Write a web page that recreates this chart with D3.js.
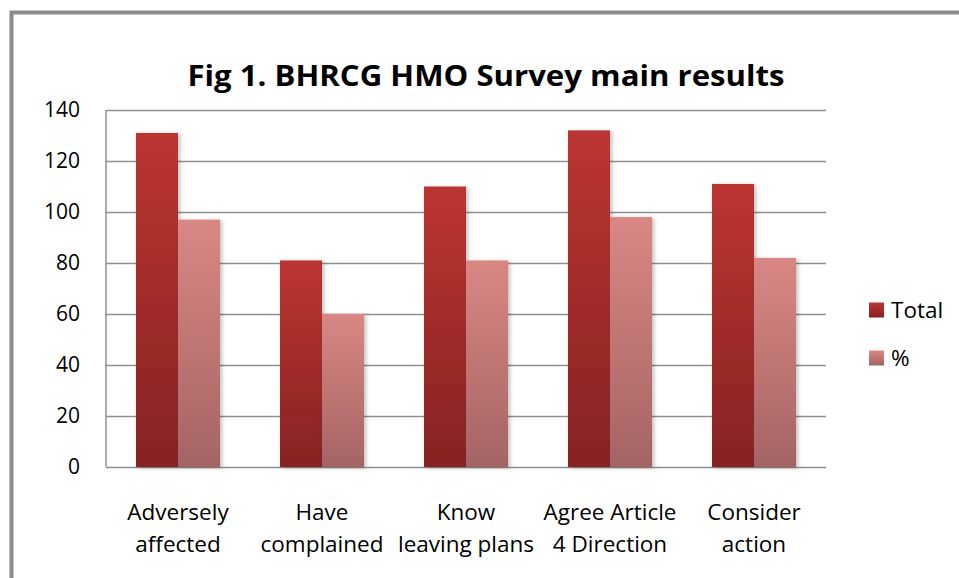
<!DOCTYPE html>
<html>
<head>
<meta charset="utf-8">
<script src="https://d3js.org/d3.v7.min.js"></script>
<style>
  body { margin: 0; background: #fff; }
  text { font-family: "Open Sans", "Noto Sans", sans-serif; fill: #000; }
</style>
</head>
<body>
<div id="chart"></div>
<script>
// data
const categories = ["Adversely affected", "Have complained", "Know leaving plans", "Agree Article 4 Direction", "Consider action"];
const catLines = [["Adversely", "affected"], ["Have", "complained"], ["Know", "leaving plans"], ["Agree Article", "4 Direction"], ["Consider", "action"]];
const series = ["Total", "%"];
const totalValues = [131, 81, 110, 132, 111];
const pctValues = [97, 60, 81, 98, 82];
const yTicks = [0, 20, 40, 60, 80, 100, 120, 140];

const W = 959, H = 578;
const plot = {left: 106, right: 826, top: 110, bottom: 467};

const svg = d3.select("#chart").append("svg")
    .attr("width", W)
    .attr("height", H);

// gradients for the bars
const defs = svg.append("defs");
const grads = [
    {id: "gTotal", top: "#bb3531", bottom: "#872323"},
    {id: "gPct", top: "#da8784", bottom: "#a46464"}
];
grads.forEach(g => {
    const lg = defs.append("linearGradient").attr("id", g.id)
        .attr("x1", 0).attr("y1", 0).attr("x2", 0).attr("y2", 1);
    lg.append("stop").attr("offset", "0%").attr("stop-color", g.top);
    lg.append("stop").attr("offset", "100%").attr("stop-color", g.bottom);
});
const shadow = defs.append("filter").attr("id", "shadow")
    .attr("x", "-20%").attr("y", "-10%").attr("width", "150%").attr("height", "120%");
shadow.append("feDropShadow").attr("dx", 2).attr("dy", 1).attr("stdDeviation", 2)
    .attr("flood-color", "#000").attr("flood-opacity", 0.25);

// outer frame (runs off the right and bottom edge)
svg.append("path")
    .attr("d", `M11.5,${H + 5} V12.5 H${W + 5}`)
    .attr("fill", "none")
    .attr("stroke", "#8c8c8c")
    .attr("stroke-width", 4);

// title
svg.append("text")
    .attr("x", 486)
    .attr("y", 86)
    .attr("text-anchor", "middle")
    .style("font-size", "28px")
    .style("font-weight", "bold")
    .attr("textLength", 597)
    .attr("lengthAdjust", "spacingAndGlyphs")
    .text("Fig 1. BHRCG HMO Survey main results");

// scales
const x0 = d3.scaleBand().domain(categories).range([plot.left, plot.right]).padding(0);
const x1 = d3.scaleBand().domain(series).range([30, 114]).padding(0);
const y = d3.scaleLinear().domain([0, 140]).range([plot.bottom, plot.top]);
const color = d3.scaleOrdinal().domain(series).range(["url(#gTotal)", "url(#gPct)"]);

// gridlines
svg.append("g")
    .attr("transform", `translate(${plot.left},0)`)
    .call(d3.axisLeft(y).tickValues(yTicks).tickSize(-(plot.right - plot.left)).tickFormat(""))
    .call(g => g.select(".domain").remove())
    .call(g => g.selectAll("line").attr("stroke", "#8f8f8f").attr("stroke-width", 1.5));

// y axis labels
svg.append("g")
    .attr("transform", `translate(${plot.left},0)`)
    .call(d3.axisLeft(y).tickValues(yTicks).tickSize(0).tickPadding(26))
    .call(g => g.select(".domain").remove())
    .call(g => g.selectAll("text").style("font-size", "21px")
        .style("font-family", "'Open Sans', sans-serif").attr("fill", "#000"));

// left axis line
svg.append("line")
    .attr("x1", plot.left).attr("x2", plot.left)
    .attr("y1", plot.top).attr("y2", plot.bottom)
    .attr("stroke", "#8f8f8f").attr("stroke-width", 1.5);

// bars
const rows = categories.map((c, i) => ({cat: c, values: [
    {key: "Total", value: totalValues[i]},
    {key: "%", value: pctValues[i]}
]}));

const groups = svg.append("g").selectAll("g")
    .data(rows)
    .enter().append("g")
    .attr("transform", d => `translate(${x0(d.cat)},0)`);

groups.selectAll("rect")
    .data(d => d.values)
    .enter().append("rect")
    .attr("x", d => x1(d.key))
    .attr("y", d => y(d.value))
    .attr("width", x1.bandwidth())
    .attr("height", d => y(0) - y(d.value))
    .attr("fill", d => color(d.key))
    .attr("filter", "url(#shadow)");

// x labels
const xl = svg.append("g").selectAll("text")
    .data(categories)
    .enter().append("text")
    .attr("x", d => x0(d) + x0.bandwidth() / 2)
    .attr("y", 520)
    .attr("text-anchor", "middle")
    .style("font-size", "22.5px");
xl.each(function(d, i) {
    const t = d3.select(this);
    catLines[i].forEach((line, j) => {
        t.append("tspan")
            .attr("x", x0(d) + x0.bandwidth() / 2)
            .attr("dy", j === 0 ? 0 : 32)
            .text(line);
    });
});

// legend
const legend = svg.append("g").selectAll("g")
    .data(series)
    .enter().append("g")
    .attr("transform", (d, i) => `translate(869,${310 + i * 48})`);
legend.append("rect")
    .attr("x", 0).attr("y", -7.5)
    .attr("width", 15).attr("height", 15)
    .attr("fill", d => color(d));
legend.append("text")
    .attr("x", 22).attr("y", 0)
    .attr("dy", "0.35em")
    .style("font-size", "22.5px")
    .text(d => d);
</script>
</body>
</html>
